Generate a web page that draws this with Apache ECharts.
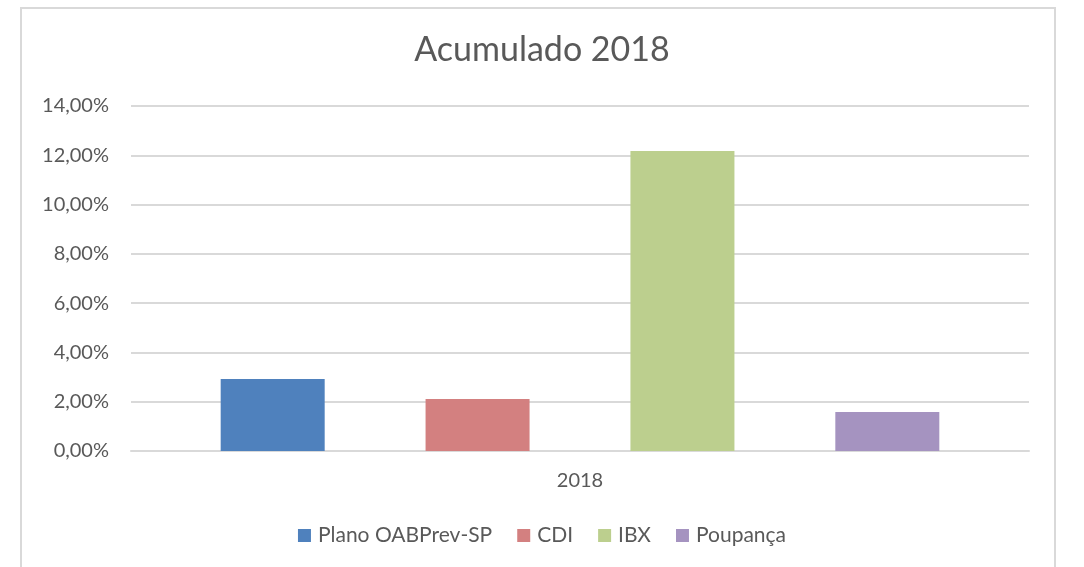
<!DOCTYPE html>
<html>
<head>
<meta charset="utf-8">
<title>Acumulado 2018</title>
<script src="https://cdn.jsdelivr.net/npm/echarts@6/dist/echarts.min.js"></script>
<style>
  html, body { margin: 0; padding: 0; background: #fff; overflow: hidden; }
  #frame { position: absolute; left: 20px; top: 7px; width: 1036px; height: 600px; border: 2px solid #d9d9d9; box-sizing: border-box; }
  #chart { position: absolute; left: 0; top: 0; width: 1084px; height: 567px; }
</style>
</head>
<body>
<div id="frame"></div>
<div id="chart"></div>
<script>
var categories = ['2018'];
var seriesNames = ['Plano OABPrev-SP', 'CDI', 'IBX', 'Poupança'];
var seriesValues = [[2.92], [2.11], [12.17], [1.58]];
var seriesColors = ['#4f81bd', '#d38080', '#bccf8e', '#a593c0'];
var yTicks = [0, 2, 4, 6, 8, 10, 12, 14];

var textColor = '#595959';
var fontFamily = 'Lato, "Open Sans", sans-serif';

var chart = echarts.init(document.getElementById('chart'));

var series = [];
for (var i = 0; i < seriesNames.length; i++) {
  series.push({
    name: seriesNames[i],
    type: 'bar',
    data: seriesValues[i],
    barWidth: 104,
    barGap: '97%',
    itemStyle: { color: seriesColors[i] }
  });
}

chart.setOption({
  animation: false,
  title: {
    text: 'Acumulado 2018',
    left: 'center',
    top: 28,
    textStyle: { color: textColor, fontSize: 34, fontWeight: 'normal', fontFamily: fontFamily }
  },
  legend: {
    bottom: 16,
    left: 'center',
    itemWidth: 13,
    itemHeight: 13,
    itemGap: 25,
    icon: 'rect',
    textStyle: { color: textColor, fontSize: 21, fontFamily: fontFamily, padding: [0, 0, 0, 2] },
    data: seriesNames
  },
  grid: { left: 131, right: 55, top: 106, bottom: 116, containLabel: false },
  xAxis: {
    type: 'category',
    data: categories,
    axisLine: { lineStyle: { color: '#d9d9d9', width: 2 } },
    axisTick: { show: false },
    axisLabel: { color: textColor, fontSize: 20, fontFamily: fontFamily, margin: 20 }
  },
  yAxis: {
    type: 'value',
    min: yTicks[0],
    max: yTicks[yTicks.length - 1],
    interval: 2,
    axisLine: { show: false },
    axisTick: { show: false },
    splitLine: { lineStyle: { color: '#d9d9d9', width: 2 } },
    axisLabel: {
      color: textColor, fontSize: 20, fontFamily: fontFamily, margin: 22,
      formatter: function (v) { return v.toFixed(2).replace('.', ',') + '%'; }
    }
  },
  series: series
});
</script>
</body>
</html>
